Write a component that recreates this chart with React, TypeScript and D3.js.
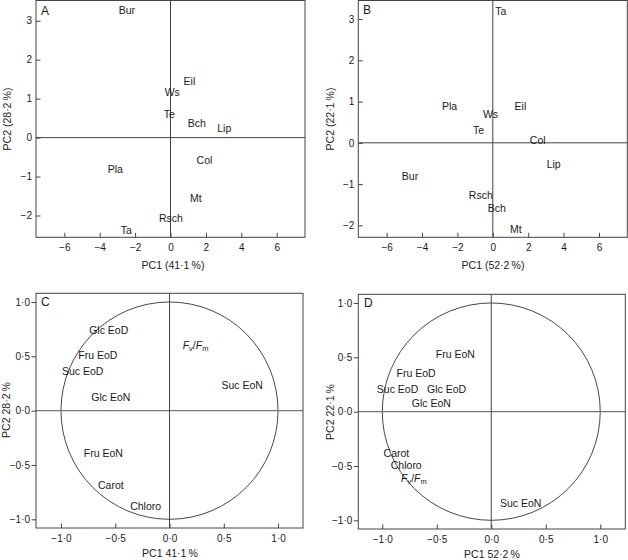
import { useRef, useEffect } from "react";
import * as d3 from "d3";

type Pt = { label: string; x: number; y: number };

// PCA scores (sites)
const scoresA: Pt[] = [
  { label: "Bur", x: -2.46, y: 3.26 },
  { label: "Eil", x: 1.07, y: 1.44 },
  { label: "Ws", x: 0.1, y: 1.17 },
  { label: "Te", x: -0.07, y: 0.6 },
  { label: "Bch", x: 1.49, y: 0.36 },
  { label: "Lip", x: 3.04, y: 0.24 },
  { label: "Col", x: 1.92, y: -0.59 },
  { label: "Pla", x: -3.12, y: -0.8 },
  { label: "Mt", x: 1.43, y: -1.55 },
  { label: "Rsch", x: 0.02, y: -2.08 },
  { label: "Ta", x: -2.5, y: -2.38 },
];

const scoresB: Pt[] = [
  { label: "Ta", x: 0.45, y: 3.2 },
  { label: "Pla", x: -2.44, y: 0.88 },
  { label: "Eil", x: 1.56, y: 0.88 },
  { label: "Ws", x: -0.13, y: 0.69 },
  { label: "Te", x: -0.81, y: 0.31 },
  { label: "Col", x: 2.54, y: 0.07 },
  { label: "Lip", x: 3.44, y: -0.53 },
  { label: "Bur", x: -4.68, y: -0.8 },
  { label: "Rsch", x: -0.68, y: -1.28 },
  { label: "Bch", x: 0.23, y: -1.59 },
  { label: "Mt", x: 1.3, y: -2.09 },
];

// PCA loadings (variables)
const loadingsC: Pt[] = [
  { label: "Glc EoD", x: -0.56, y: 0.74 },
  { label: "Fv/Fm", x: 0.24, y: 0.6 },
  { label: "Fru EoD", x: -0.66, y: 0.51 },
  { label: "Suc EoD", x: -0.8, y: 0.36 },
  { label: "Suc EoN", x: 0.67, y: 0.23 },
  { label: "Glc EoN", x: -0.54, y: 0.12 },
  { label: "Fru EoN", x: -0.61, y: -0.39 },
  { label: "Carot", x: -0.54, y: -0.69 },
  { label: "Chloro", x: -0.22, y: -0.88 },
];

const loadingsD: Pt[] = [
  { label: "Fru EoN", x: -0.33, y: 0.53 },
  { label: "Fru EoD", x: -0.69, y: 0.35 },
  { label: "Suc EoD", x: -0.86, y: 0.21 },
  { label: "Glc EoD", x: -0.41, y: 0.21 },
  { label: "Glc EoN", x: -0.55, y: 0.08 },
  { label: "Carot", x: -0.87, y: -0.38 },
  { label: "Chloro", x: -0.78, y: -0.49 },
  { label: "Fv/Fm", x: -0.71, y: -0.61 },
  { label: "Suc EoN", x: 0.27, y: -0.84 },
];

const scoreXTicks = [-6, -4, -2, 0, 2, 4, 6];
const scoreYTicks = [-2, -1, 0, 1, 2, 3];
const loadTicks = [-1, -0.5, 0, 0.5, 1];

const FONT = "'Liberation Sans', Arial, Helvetica, sans-serif";
const INK = "#1a1a1a";

const fmtScore = (d: number) => (d < 0 ? "\u2212" + Math.abs(d) : String(d));
const fmtLoad = (d: number) =>
  (d < 0 ? "\u2212" : "") + Math.abs(d).toFixed(1).replace(".", "\u00b7");

type Panel = {
  letter: string;
  data: Pt[];
  xDomain: [number, number];
  yDomain: [number, number];
  box: { x0: number; x1: number; y0: number; y1: number };
  xTicks: number[];
  yTicks: number[];
  fmt: (d: number) => string;
  circle: boolean;
  yTickOut: boolean;
  xTitle: string;
  yTitle: string;
  xTitlePos: [number, number];
  yTitlePos: [number, number];
  letterPos: [number, number];
};

const panels: Panel[] = [
  {
    letter: "A",
    data: scoresA,
    xDomain: [-7.6, 7.6],
    yDomain: [-2.56, 3.52],
    box: { x0: 36, x1: 305, y0: 0.5, y1: 237.3 },
    xTicks: scoreXTicks,
    yTicks: scoreYTicks,
    fmt: fmtScore,
    circle: false,
    yTickOut: false,
    xTitle: "PC1 (41\u00b71\u2009%)",
    yTitle: "PC2 (28\u00b72\u2009%)",
    xTitlePos: [173, 269],
    yTitlePos: [11, 119],
    letterPos: [41, 15],
  },
  {
    letter: "B",
    data: scoresB,
    xDomain: [-7.6, 7.6],
    yDomain: [-2.29, 3.45],
    box: { x0: 358.3, x1: 627.3, y0: 0.5, y1: 237.3 },
    xTicks: scoreXTicks,
    yTicks: scoreYTicks,
    fmt: fmtScore,
    circle: false,
    yTickOut: false,
    xTitle: "PC1 (52\u00b72\u2009%)",
    yTitle: "PC2 (22\u00b71\u2009%)",
    xTitlePos: [493, 269],
    yTitlePos: [334, 119],
    letterPos: [363, 14],
  },
  {
    letter: "C",
    data: loadingsC,
    xDomain: [-1.23, 1.23],
    yDomain: [-1.08, 1.08],
    box: { x0: 36, x1: 303, y0: 293.3, y1: 528 },
    xTicks: loadTicks,
    yTicks: loadTicks,
    fmt: fmtLoad,
    circle: true,
    yTickOut: true,
    xTitle: "PC1 41\u00b71\u2009%",
    yTitle: "PC2 28\u00b72\u2009%",
    xTitlePos: [170, 557],
    yTitlePos: [10, 410],
    letterPos: [41, 306],
  },
  {
    letter: "D",
    data: loadingsD,
    xDomain: [-1.22, 1.23],
    yDomain: [-1.08, 1.08],
    box: { x0: 358.3, x1: 625.3, y0: 294.3, y1: 529 },
    xTicks: loadTicks,
    yTicks: loadTicks,
    fmt: fmtLoad,
    circle: true,
    yTickOut: true,
    xTitle: "PC1 52\u00b72\u2009%",
    yTitle: "PC2 22\u00b71\u2009%",
    xTitlePos: [492, 558],
    yTitlePos: [334, 412],
    letterPos: [364, 307],
  },
];

export default function App() {
  const svgRef = useRef<SVGSVGElement>(null);

  useEffect(() => {
    if (!svgRef.current) return;
    const svg = d3.select(svgRef.current);
    svg.selectAll("*").remove();

    panels.forEach((p) => {
      const { box } = p;
      const x = d3.scaleLinear().domain(p.xDomain).range([box.x0, box.x1]);
      const y = d3.scaleLinear().domain(p.yDomain).range([box.y1, box.y0]);
      const g = svg.append("g").attr("font-family", FONT);

      // correlation circle
      if (p.circle) {
        g.append("ellipse")
          .attr("cx", x(0))
          .attr("cy", y(0))
          .attr("rx", x(1) - x(0))
          .attr("ry", y(0) - y(1))
          .attr("fill", "none")
          .attr("stroke", "#333")
          .attr("stroke-width", 0.9);
      }

      // zero lines
      g.append("line")
        .attr("x1", box.x0)
        .attr("x2", box.x1)
        .attr("y1", y(0))
        .attr("y2", y(0))
        .attr("stroke", p.circle ? "#777" : "#444")
        .attr("stroke-width", p.circle ? 1.2 : 1);
      g.append("line")
        .attr("x1", x(0))
        .attr("x2", x(0))
        .attr("y1", box.y0)
        .attr("y2", box.y1)
        .attr("stroke", "#444")
        .attr("stroke-width", 1);

      // axes
      const xAxis = g
        .append("g")
        .attr("transform", `translate(0,${box.y1})`)
        .call(
          d3
            .axisBottom(x)
            .tickValues(p.xTicks)
            .tickSize(-4.5)
            .tickPadding(10)
            .tickFormat((d) => p.fmt(d as number))
        );
      xAxis.select(".domain").remove();
      xAxis.selectAll("line").attr("stroke", "#444");
      xAxis
        .selectAll("text")
        .attr("fill", INK)
        .attr("font-size", "10px")
        .attr("font-family", FONT)
        .attr("dy", "0.71em")
        .attr("y", 6.5);

      const yAxis = g
        .append("g")
        .attr("transform", `translate(${box.x0},0)`)
        .call(
          d3
            .axisLeft(y)
            .tickValues(p.yTicks)
            .tickSize(p.yTickOut ? 4.5 : -4.5)
            .tickPadding(p.yTickOut ? 1.5 : 4)
            .tickFormat((d) => p.fmt(d as number))
        );
      yAxis.select(".domain").remove();
      yAxis.selectAll("line").attr("stroke", "#444");
      yAxis
        .selectAll("text")
        .attr("fill", INK)
        .attr("font-size", "10px")
        .attr("font-family", FONT)
        .attr("x", p.yTickOut ? -6 : -4);

      // frame
      g.append("rect")
        .attr("x", box.x0)
        .attr("y", box.y0)
        .attr("width", box.x1 - box.x0)
        .attr("height", box.y1 - box.y0)
        .attr("fill", "none")
        .attr("stroke", "#444")
        .attr("stroke-width", 1);

      // point labels
      p.data.forEach((d) => {
        const t = g
          .append("text")
          .attr("x", x(d.x))
          .attr("y", y(d.y))
          .attr("dy", "0.36em")
          .attr("text-anchor", "middle")
          .attr("font-size", "10.5px")
          .attr("fill", INK);
        if (d.label === "Fv/Fm") {
          t.append("tspan").attr("font-style", "italic").text("F");
          t.append("tspan").attr("font-size", "7.5px").attr("dy", "0.25em").text("v");
          t.append("tspan").attr("dy", "-0.18em").text("/");
          t.append("tspan").attr("font-style", "italic").text("F");
          t.append("tspan").attr("font-size", "7.5px").attr("dy", "0.25em").text("m");
        } else {
          t.text(d.label);
        }
      });

      // panel letter
      g.append("text")
        .attr("x", p.letterPos[0])
        .attr("y", p.letterPos[1])
        .attr("font-size", "12px")
        .attr("fill", INK)
        .text(p.letter);

      // axis titles
      g.append("text")
        .attr("x", p.xTitlePos[0])
        .attr("y", p.xTitlePos[1])
        .attr("text-anchor", "middle")
        .attr("font-size", "10.5px")
        .attr("fill", INK)
        .text(p.xTitle);
      g.append("text")
        .attr(
          "transform",
          `translate(${p.yTitlePos[0]},${p.yTitlePos[1]}) rotate(-90)`
        )
        .attr("text-anchor", "middle")
        .attr("font-size", "10.5px")
        .attr("fill", INK)
        .text(p.yTitle);
    });
  }, []);

  return (
    <svg
      ref={svgRef}
      width={628}
      height={560}
      style={{ position: "absolute", left: 0, top: 0, background: "#fff" }}
    />
  );
}
